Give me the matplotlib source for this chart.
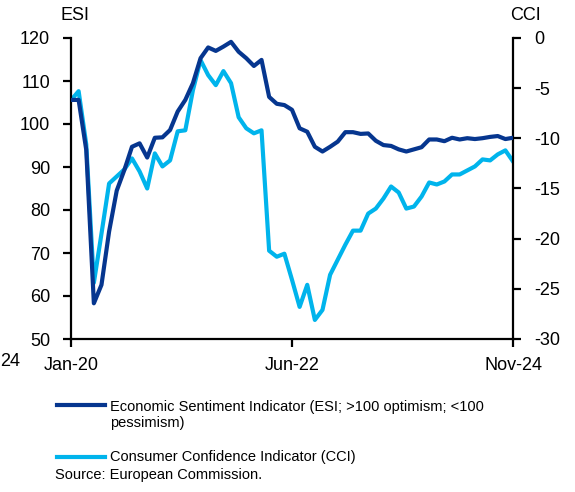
import matplotlib
matplotlib.use("Agg")
import matplotlib.pyplot as plt
from matplotlib.lines import Line2D
import numpy as np

plt.rcParams['font.family'] = ['Liberation Sans', 'DejaVu Sans']
plt.rcParams['axes.unicode_minus'] = False

# monthly, Jan-20 .. Nov-24
months = np.arange(59)
xtick_pos = [0, 29, 58]
xtick_labels = ['Jan-20', 'Jun-22', 'Nov-24']

esi = [105.6, 105.6, 94.0, 58.3, 62.6, 75.0, 84.5, 89.3, 94.7, 95.5,
       92.2, 96.8, 96.9, 98.6, 102.9, 105.6, 109.5, 115.3, 117.8, 117.0,
       118.0, 119.1, 116.8, 115.3, 113.5, 114.9, 106.3, 104.7, 104.4, 103.3,
       99.0, 98.2, 94.7, 93.6, 94.7, 95.9, 98.1, 98.1, 97.7, 97.8,
       96.1, 95.1, 94.9, 94.1, 93.6, 94.1, 94.6, 96.4, 96.4, 96.0,
       96.8, 96.4, 96.7, 96.5, 96.7, 97.0, 97.2, 96.5, 96.8]

cci = [-6.2, -5.3, -10.6, -24.4, -19.5, -14.5, -13.8, -13.1, -12.0, -13.3,
       -15.0, -11.5, -12.8, -12.2, -9.3, -9.2, -5.2, -2.2, -3.7, -4.7,
       -3.3, -4.5, -7.9, -9.0, -9.5, -9.2, -21.2, -21.8, -21.5, -24.1,
       -26.8, -24.6, -28.1, -27.1, -23.6, -22.1, -20.6, -19.2, -19.2, -17.5,
       -17.0, -16.0, -14.8, -15.4, -17.0, -16.8, -15.8, -14.4, -14.6, -14.3,
       -13.6, -13.6, -13.2, -12.8, -12.1, -12.2, -11.6, -11.2, -12.3]

names = ['Economic Sentiment Indicator (ESI; >100 optimism; <100\npessimism)',
         'Consumer Confidence Indicator (CCI)']
dark = '#06368f'
light = '#00b4ec'

fig = plt.figure(figsize=(5.75, 4.92), dpi=100)
ax = fig.add_axes([71/575, 1-339/492, (513-71)/575, (339-38)/492])
ax2 = ax.twinx()

ax.plot(months, esi, color=dark, lw=3, zorder=3, solid_joinstyle='round')
ax2.plot(months, cci, color=light, lw=3, zorder=2, solid_joinstyle='round')
ax.set_zorder(ax2.get_zorder() + 1)
ax.patch.set_visible(False)

ax.set_xlim(0, 58)
ax.set_ylim(50, 120)
ax.set_yticks(range(50, 121, 10))
ax2.set_ylim(-30, 0)
ax2.set_yticks(range(-30, 1, 5))
ax.set_xticks(xtick_pos)
ax.set_xticklabels(xtick_labels)

for a in (ax, ax2):
    a.spines['top'].set_visible(False)
    for s in a.spines.values():
        s.set_linewidth(1.6)
        s.set_color('black')
ax.spines['right'].set_visible(False)
ax2.spines['left'].set_visible(False)
ax2.spines['bottom'].set_visible(False)

ax.tick_params(axis='y', direction='out', length=6, width=1.6, pad=9, labelsize=13)
ax.tick_params(axis='x', direction='out', length=6, width=1.6, pad=7, labelsize=13)
ax2.tick_params(axis='y', direction='out', length=6, width=1.6, pad=9, labelsize=13)

fig.text(60/575, 1-16/492, 'ESI', fontsize=13, ha='left', va='center')
fig.text(510/575, 1-16/492, 'CCI', fontsize=13, ha='left', va='center')
# stray label fragment at the left edge, as in the reference
fig.text(0.5/575, 1-361/492, '24', fontsize=13, ha='left', va='center')

# legend, drawn below the chart
for yk, ytext, col, name in [(405, 415, dark, names[0]), (457, 457.5, light, names[1])]:
    fig.add_artist(Line2D([57/575, 105/575], [1-yk/492, 1-yk/492],
                          color=col, lw=3, transform=fig.transFigure))
    fig.text(110/575, 1-ytext/492, name, fontsize=10.5, ha='left', va='center',
             linespacing=1.25)
fig.text(55/575, 1-475.5/492, 'Source: European Commission.', fontsize=10.5,
         ha='left', va='center')

fig.savefig('out.png', dpi=100)
